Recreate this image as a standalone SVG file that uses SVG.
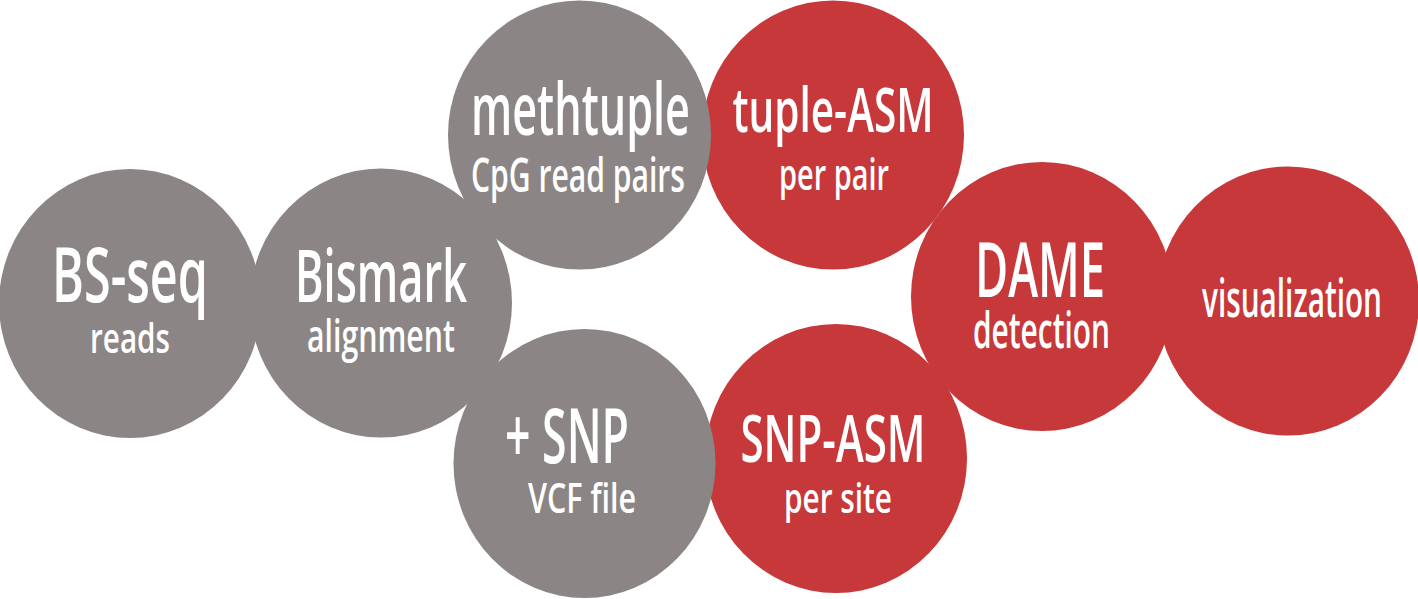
<svg xmlns="http://www.w3.org/2000/svg" width="1418" height="599" viewBox="0 0 1418 599">
  <style>
    .gray { fill: #8b8585; }
    .red { fill: #c6383a; }
    text { font-family: "Open Sans", "Noto Sans", "Liberation Sans", sans-serif; font-weight: 600; fill: #ffffff; text-anchor: middle; }
  </style>
  <rect x="0" y="0" width="1418" height="599" fill="#ffffff"/>

  <!-- red stages drawn first so the grey inputs sit on top -->
  <g id="node-tuple-asm">
    <ellipse class="red" cx="833" cy="135" rx="131" ry="134.5"/>
    <text x="833" y="132" font-size="62" textLength="201" lengthAdjust="spacingAndGlyphs">tuple-ASM</text>
    <text x="834" y="190" font-size="44" textLength="110" lengthAdjust="spacingAndGlyphs">per pair</text>
  </g>
  <g id="node-snp-asm">
    <ellipse class="red" cx="836" cy="458.5" rx="131" ry="134.5"/>
    <text x="833" y="462" font-size="66" textLength="185" lengthAdjust="spacingAndGlyphs">SNP-ASM</text>
    <text x="838" y="513" font-size="42" textLength="108" lengthAdjust="spacingAndGlyphs">per site</text>
  </g>
  <g id="node-dame">
    <ellipse class="red" cx="1042" cy="296.5" rx="131" ry="134.5"/>
    <text x="1040" y="297" font-size="76" textLength="130" lengthAdjust="spacingAndGlyphs">DAME</text>
    <text x="1041.5" y="348" font-size="50" textLength="137" lengthAdjust="spacingAndGlyphs">detection</text>
  </g>
  <g id="node-visualization">
    <ellipse class="red" cx="1288" cy="301" rx="131" ry="134.5"/>
    <text x="1292" y="317" font-size="52" textLength="180" lengthAdjust="spacingAndGlyphs">visualization</text>
  </g>

  <g id="node-bs-seq">
    <ellipse class="gray" cx="130" cy="303.5" rx="131" ry="134.5"/>
    <text x="130" y="302" font-size="76" textLength="156" lengthAdjust="spacingAndGlyphs">BS-seq</text>
    <text x="130" y="353" font-size="42" textLength="80" lengthAdjust="spacingAndGlyphs">reads</text>
  </g>
  <g id="node-bismark">
    <ellipse class="gray" cx="381" cy="303" rx="131" ry="134.5"/>
    <text x="381" y="302" font-size="73" textLength="172" lengthAdjust="spacingAndGlyphs">Bismark</text>
    <text x="381" y="352" font-size="45" textLength="148" lengthAdjust="spacingAndGlyphs">alignment</text>
  </g>
  <g id="node-methtuple">
    <ellipse class="gray" cx="579.5" cy="135" rx="131.5" ry="134.5"/>
    <text x="580.5" y="135" font-size="72" textLength="219" lengthAdjust="spacingAndGlyphs">methtuple</text>
    <text x="578" y="192" font-size="47" textLength="214" lengthAdjust="spacingAndGlyphs">CpG read pairs</text>
  </g>
  <g id="node-snp">
    <ellipse class="gray" cx="584.5" cy="463.5" rx="131" ry="134.5"/>
    <text x="567" y="463" font-size="76" textLength="124" lengthAdjust="spacingAndGlyphs">+ SNP</text>
    <text x="582" y="513" font-size="42" textLength="108" lengthAdjust="spacingAndGlyphs">VCF file</text>
  </g>

  <!-- the stages touch one another; no separate connector lines are drawn -->
  <g id="connectors"/>
</svg>
